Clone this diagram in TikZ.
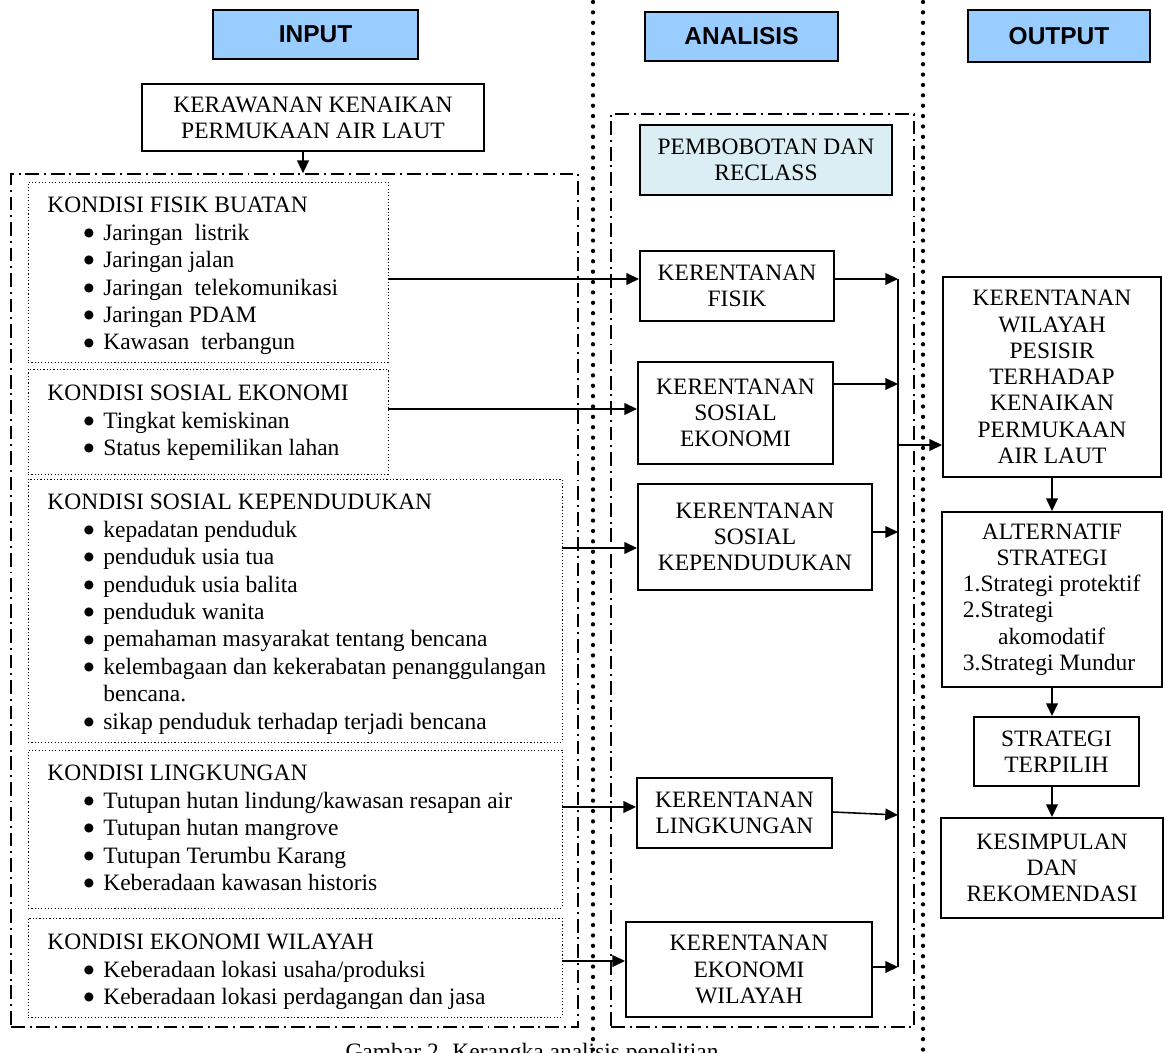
\documentclass[tikz,border=0pt]{standalone}
\usepackage{fontspec}
\setmainfont{Liberation Serif}
\setsansfont{Liberation Sans}
\newfontfamily\dotfont{DejaVu Sans}
\usepackage{tikz}
\usetikzlibrary{arrows.meta, calc, positioning}
\usepackage{xcolor}
\definecolor{HeadBlue}{RGB}{153, 204, 255}
\definecolor{LiteCyan}{RGB}{218, 238, 243}
\newcommand{\pxu}{0.511pt}
\newcommand{\itm}{\hspace*{18.6pt}\makebox[10pt][l]{\raisebox{2pt}{\dotfont\fontsize{6pt}{6pt}\selectfont ●}}}
\tikzset{%
  header_block/.style={%
    rectangle,%
    draw=black,%
    line width=1pt,%
    fill=HeadBlue,%
    inner sep=0pt,%
    font={\sffamily\bfseries\fontsize{12.5pt}{15pt}\selectfont},%
    align=center%
  },
  smooth_block/.style={%
    rectangle,%
    draw=black,%
    line width=1pt,%
    inner sep=0pt,%
    font={\fontsize{12pt}{13.4pt}\selectfont},%
    align=center%
  },
  dotted_block/.style={%
    rectangle,%
    draw=black,%
    line width=0.5pt,%
    dash pattern=on 0.6pt off 1.1pt,%
    inner sep=0pt%
  },
  dashdot_frame/.style={%
    rectangle,%
    draw=black,%
    line width=0.9pt,%
    dash pattern=on 7pt off 2.5pt on 1pt off 2.5pt,%
    inner sep=0pt%
  },
  list_text/.style={%
    anchor=north west,%
    inner sep=0pt,%
    align=left,%
    font={\fontsize{12pt}{14pt}\selectfont}%
  },
  big_dots/.style={%
    line width=2.2pt,%
    dash pattern=on 0pt off 5.3pt,%
    line cap=round%
  },
  smooth_path/.style={%
    color=black,%
    line width=0.8pt,%
    line join=round%
  },
  arrow/.style={-{Triangle[length=6.5pt, width=6pt]}},
}

\begin{document}
\begin{tikzpicture}[x=\pxu, y=-\pxu]
    \useasboundingbox (0,0) rectangle (1165,1053);
    \clip (0,0) rectangle (1165,1053);

    % column separators
    \draw [big_dots] (593,2) -- (593,1053);
    \draw [big_dots] (923,2) -- (923,1053);

    % headers
    \node [header_block, minimum width=205*\pxu, minimum height=49*\pxu] (Input) at (315.5,34.5) {INPUT};
    \node [header_block, minimum width=193*\pxu, minimum height=49*\pxu] (Analisis) at (741.5,36.5) {ANALISIS};
    \node [header_block, minimum width=182*\pxu, minimum height=52*\pxu] (Output) at (1059,36) {OUTPUT};

    % input column
    \node [smooth_block, minimum width=342*\pxu, minimum height=67*\pxu] (Kerawanan) at (313,117.5)
      {KERAWANAN KENAIKAN\\PERMUKAAN AIR LAUT};
    \node [dashdot_frame, minimum width=567*\pxu, minimum height=853*\pxu] (InputFrame) at (294.5,600.5) {};

    \node [dotted_block, minimum width=360*\pxu, minimum height=180*\pxu] (FisikFrame) at (208,272) {};
    \node [dotted_block, minimum width=360*\pxu, minimum height=105*\pxu] (SosekFrame) at (208,421.5) {};
    \node [dotted_block, minimum width=534*\pxu, minimum height=263*\pxu] (PendudukFrame) at (295,610.5) {};
    \node [dotted_block, minimum width=534*\pxu, minimum height=158*\pxu] (LingkunganFrame) at (295,829) {};
    \node [dotted_block, minimum width=534*\pxu, minimum height=99*\pxu] (EkonomiFrame) at (295,967.5) {};

    \node [list_text] (FisikText) at (47,197) {KONDISI FISIK BUATAN\\
      \itm Jaringan\ \ listrik\\
      \itm Jaringan jalan\\
      \itm Jaringan\ \ telekomunikasi\\
      \itm Jaringan PDAM\\
      \itm Kawasan\ \ terbangun};
    \node [list_text] (SosekText) at (47,385) {KONDISI SOSIAL EKONOMI\\
      \itm Tingkat kemiskinan\\
      \itm Status kepemilikan lahan};
    \node [list_text] (PendudukText) at (47,494) {KONDISI SOSIAL KEPENDUDUKAN\\
      \itm kepadatan penduduk\\
      \itm penduduk usia tua\\
      \itm penduduk usia balita\\
      \itm penduduk wanita\\
      \itm pemahaman masyarakat tentang bencana\\
      \itm kelembagaan dan kekerabatan penanggulangan\\
      \hspace*{28.6pt}bencana.\\
      \itm sikap penduduk terhadap terjadi bencana};
    \node [list_text] (LingkunganText) at (47,765) {KONDISI LINGKUNGAN\\
      \itm Tutupan hutan lindung/kawasan resapan air\\
      \itm Tutupan hutan mangrove\\
      \itm Tutupan Terumbu Karang\\
      \itm Keberadaan kawasan historis};
    \node [list_text] (EkonomiText) at (47,934) {KONDISI EKONOMI WILAYAH\\
      \itm Keberadaan lokasi usaha/produksi\\
      \itm Keberadaan lokasi perdagangan dan jasa};

    % analysis column
    \node [dashdot_frame, minimum width=303*\pxu, minimum height=913*\pxu] (AnalisisFrame) at (762.5,570.5) {};
    \node [smooth_block, fill=LiteCyan, minimum width=252*\pxu, minimum height=70*\pxu] (Pembobotan) at (766,160)
      {PEMBOBOTAN DAN\\RECLASS};
    \node [smooth_block, fill=white, minimum width=194*\pxu, minimum height=70*\pxu] (KFisik) at (737,286)
      {KERENTANAN\\FISIK};
    \node [smooth_block, fill=white, minimum width=195*\pxu, minimum height=102*\pxu] (KSosek) at (735.5,413)
      {KERENTANAN\\SOSIAL\\EKONOMI};
    \node [smooth_block, fill=white, minimum width=234*\pxu, minimum height=106*\pxu] (KPenduduk) at (755,537)
      {KERENTANAN\\SOSIAL\\KEPENDUDUKAN};
    \node [smooth_block, fill=white, minimum width=195*\pxu, minimum height=70*\pxu] (KLingkungan) at (734.5,813)
      {KERENTANAN\\LINGKUNGAN};
    \node [smooth_block, fill=white, minimum width=246*\pxu, minimum height=95*\pxu] (KEkonomi) at (749,969.5)
      {KERENTANAN\\EKONOMI\\WILAYAH};

    % output column
    \node [smooth_block, minimum width=218*\pxu, minimum height=200*\pxu] (Wilayah) at (1052,377)
      {KERENTANAN\\WILAYAH\\PESISIR\\TERHADAP\\KENAIKAN\\PERMUKAAN\\AIR LAUT};
    \node [smooth_block, minimum width=220*\pxu, minimum height=175*\pxu] (Alternatif) at (1052,599.5)
      {ALTERNATIF\\STRATEGI\\
       \makebox[91pt][l]{1.Strategi protektif}\\
       \makebox[91pt][l]{2.Strategi}\\
       \makebox[91pt][l]{\hspace*{18pt}akomodatif}\\
       \makebox[91pt][l]{3.Strategi Mundur}};
    \node [smooth_block, minimum width=165*\pxu, minimum height=69*\pxu] (Terpilih) at (1056.5,751.5)
      {STRATEGI\\TERPILIH};
    \node [smooth_block, minimum width=222*\pxu, minimum height=100*\pxu] (Kesimpulan) at (1052,868)
      {KESIMPULAN\\DAN\\REKOMENDASI};

    \node [anchor=north, inner sep=0pt, font={\fontsize{12pt}{14pt}\selectfont}] (Caption) at (532,1043)
      {Gambar 2. Kerangka analisis penelitian};

    \coordinate (CollTop) at (898,279);
    \coordinate (CollBot) at (898,967);
    \coordinate (CollOut) at (898,445);

    \draw [arrow, smooth_path]
      ($(Kerawanan.south)+(-10,0)$)
      --
      ($(Kerawanan.south |- InputFrame.north)+(-10,0)$);

    % input -> analysis
    \draw [arrow, smooth_path]
      ($(FisikFrame.east |- KFisik.west)+(0,-7)$)
      --
      ($(KFisik.west)+(0,-7)$);
    \draw [arrow, smooth_path]
      ($(SosekFrame.east |- KSosek.west)+(0,-4)$)
      --
      ($(KSosek.west)+(0,-4)$);
    \draw [arrow, smooth_path]
      ($(PendudukFrame.east |- KPenduduk.west)+(0,11)$)
      --
      ($(KPenduduk.west)+(0,11)$);
    \draw [arrow, smooth_path]
      ($(LingkunganFrame.east |- KLingkungan.west)+(0,-6)$)
      --
      ($(KLingkungan.west)+(0,-6)$);
    \draw [arrow, smooth_path]
      ($(EkonomiFrame.east |- KEkonomi.west)+(0,-8.5)$)
      --
      ($(KEkonomi.west)+(0,-8.5)$);

    % analysis -> collector
    \draw [smooth_path] (CollTop) -- (CollBot);
    \draw [arrow, smooth_path]
      ($(KFisik.east)+(0,-7)$)
      --
      ($(KFisik.east -| CollTop)+(0,-7)$);
    \draw [arrow, smooth_path]
      ($(KSosek.east)+(0,-29)$)
      --
      ($(KSosek.east -| CollTop)+(0,-29)$);
    \draw [arrow, smooth_path]
      ($(KPenduduk.east)+(0,-5)$)
      --
      ($(KPenduduk.east -| CollTop)+(0,-5)$);
    \draw [arrow, smooth_path]
      ($(KLingkungan.east)+(0,-1)$)
      --
      ($(KLingkungan.east -| CollTop)+(0,2)$);
    \draw [arrow, smooth_path]
      ($(KEkonomi.east)+(0,-2.5)$)
      --
      ($(KEkonomi.east -| CollTop)+(0,-2.5)$);

    % collector -> output chain
    \draw [arrow, smooth_path]
      (CollOut)
      --
      (CollOut -| Wilayah.west);
    \draw [arrow, smooth_path]
      (Wilayah.south)
      --
      (Alternatif.north);
    \draw [arrow, smooth_path]
      (Alternatif.south)
      --
      (Alternatif.south |- Terpilih.north);
    \draw [arrow, smooth_path]
      (Alternatif.south |- Terpilih.south)
      --
      (Alternatif.south |- Kesimpulan.north);
\end{tikzpicture}
\end{document}
